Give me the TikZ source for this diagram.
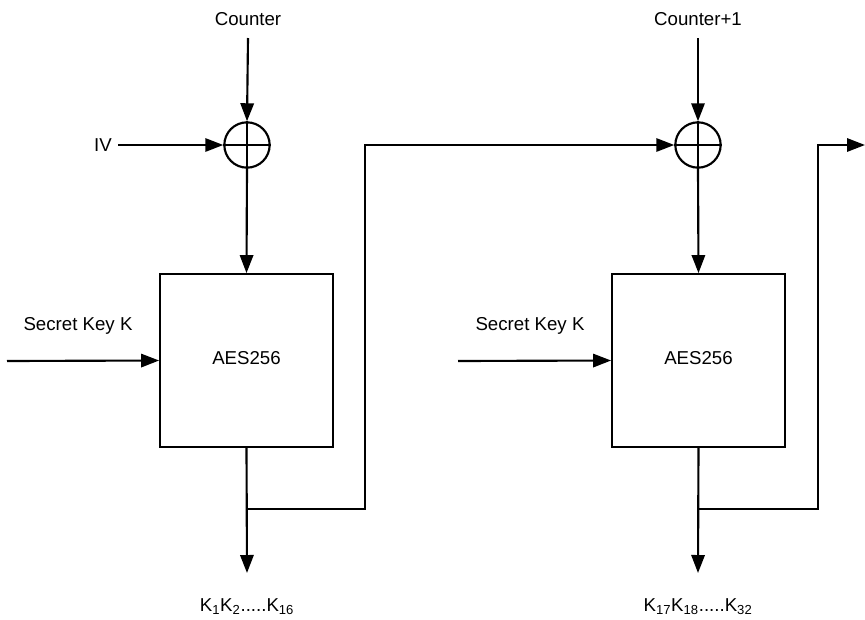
\documentclass[tikz,border=0pt]{standalone}
\usepackage{fontspec}
\setmainfont{Liberation Sans}
\usetikzlibrary{arrows.meta}
\tikzset{
  lbl/.style={inner sep=1pt, font=\fontsize{14}{17}\selectfont},
  xorop/.style={circle, draw, line width=1.6pt, minimum size=34pt, inner sep=0pt},
  aesbox/.style={draw, line width=1.6pt, minimum width=129.5pt, minimum height=129.5pt, inner sep=0pt, font=\fontsize{14}{17}\selectfont},
  conn/.style={line width=1.6pt},
  arr/.style={conn, -{Triangle[length=13.5pt,width=10pt]}}
}
\begin{document}
\begin{tikzpicture}[x=0.75pt,y=-0.75pt]
\useasboundingbox (0,0) rectangle (865,619);
% stage 1
\node[lbl] (ctr1) at (248,19) {Counter};
\node[xorop] (x1) at (247,145) {};
\draw[conn] (x1.north) -- (x1.south) (x1.west) -- (x1.east);
\node[lbl] (iv) at (103,145) {IV};
\node[aesbox] (aes1) at (246.5,360.5) {};
\node[lbl] (aest1) at (246.5,358) {AES256};
\node[lbl] (sk1) at (78,326) {Secret Key K};
\coordinate (in1) at (7,361);
\node[lbl] (out1) at (247,607) {K\textsubscript{1}K\textsubscript{2}.....K\textsubscript{16}};
\coordinate (o1) at (247,573);
\coordinate (br1) at (247,509);
\coordinate (turn1) at (365,509);
\coordinate (c1) at (248,38);
\coordinate (ivs) at (118,145);
\draw[arr] (c1) -- (x1.north);
\draw[arr] (ivs) -- (x1.west);
\draw[arr] (x1.south) -- (aes1.north);
\draw[arr] (in1) -- (aes1.west);
\draw[arr] (aes1.south) -- (o1);
% stage 2
\node[lbl] (ctr2) at (698,19) {Counter+1};
\coordinate (c2) at (698,38);
\node[xorop] (x2) at (698,145) {};
\draw[conn] (x2.north) -- (x2.south) (x2.west) -- (x2.east);
\node[aesbox] (aes2) at (698.5,360.5) {};
\node[lbl] (aest2) at (698.5,358) {AES256};
\node[lbl] (sk2) at (530,326) {Secret Key K};
\coordinate (in2) at (458,361);
\node[lbl] (out2) at (698,607) {K\textsubscript{17}K\textsubscript{18}.....K\textsubscript{32}};
\coordinate (o2) at (698,573);
\coordinate (br2) at (698,509);
\coordinate (turn2) at (818,509);
\coordinate (endr) at (865,145);
\draw[arr] (c2) -- (x2.north);
\draw[arr] (x2.south) -- (aes2.north);
\draw[arr] (in2) -- (aes2.west);
\draw[arr] (aes2.south) -- (o2);
\draw[arr] (br1) -- (turn1) |- (x2.west);
\draw[arr] (br2) -- (turn2) |- (endr);
\end{tikzpicture}
\end{document}
